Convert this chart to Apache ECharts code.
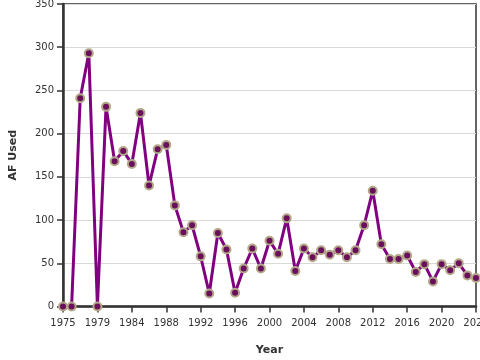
<!DOCTYPE html>
<html><head><meta charset="utf-8">
<script src="https://cdn.jsdelivr.net/npm/echarts@6/dist/echarts.min.js"></script>
<style>html,body{margin:0;padding:0;background:#fff}#c{width:480px;height:360px}</style>
</head><body><div id="c"></div>
<script>
var years = ['1975','1976','1977','1978','1979','1981','1982','1983','1984','1985','1986','1987','1988','1989','1990','1991','1992','1993','1994','1995','1996','1997','1998','1999','2000','2001','2002','2003','2004','2005','2006','2007','2008','2009','2010','2011','2012','2013','2014','2015','2016','2017','2018','2019','2020','2021','2022','2023','2024'];
var afUsed = [0,0,241,293,0,231,168,180,165,224,140,182,187,117,86,94,58,15,85,66,16,44,67,44,76,61,102,41,67,57,65,60,65,57,65,94,134,72,55,55,59,40,49,29,49,42,50,36,33];
var yTicks = {min:0, max:350, interval:50};

var chart = echarts.init(document.getElementById('c'), null, {renderer:'canvas'});
chart.setOption({
  animation:false,
  textStyle:{fontFamily:'DejaVu Sans'},
  grid:{left:63, right:4, top:4, bottom:53.5, containLabel:false, outerBoundsMode:'none', show:true, borderColor:'#333', borderWidth:1.5, backgroundColor:'#fff'},
  xAxis:{
    type:'category', data:years, boundaryGap:false,
    name:'Year', nameLocation:'middle', nameGap:38,
    nameTextStyle:{fontFamily:'DejaVu Sans', fontSize:11, fontWeight:'bold', color:'#333'},
    axisLine:{lineStyle:{color:'#333', width:2.5}},
    axisTick:{interval:3, length:6, lineStyle:{color:'#333', width:1.5}},
    axisLabel:{interval:3, fontSize:10, color:'#333', margin:12, showMaxLabel:true, hideOverlap:false},
    splitLine:{show:false}
  },
  yAxis:{
    type:'value', min:yTicks.min, max:yTicks.max, interval:yTicks.interval,
    name:'AF Used', nameLocation:'middle', nameGap:44,
    nameTextStyle:{fontFamily:'DejaVu Sans', fontSize:11, fontWeight:'bold', color:'#333'},
    axisLine:{show:true, lineStyle:{color:'#333', width:2.5}},
    axisTick:{show:true, length:6, lineStyle:{color:'#333', width:1.5}},
    axisLabel:{fontSize:10, color:'#333', margin:9},
    splitLine:{lineStyle:{color:'#d9d9d9', width:1}}
  },
  series:[{
    type:'line', data:afUsed,
    symbol:'circle', symbolSize:8, showAllSymbol:true,
    lineStyle:{color:'#800080', width:3},
    itemStyle:{color:'#6a0f5c', borderColor:'#b3a789', borderWidth:2}
  }]
});
</script></body></html>
